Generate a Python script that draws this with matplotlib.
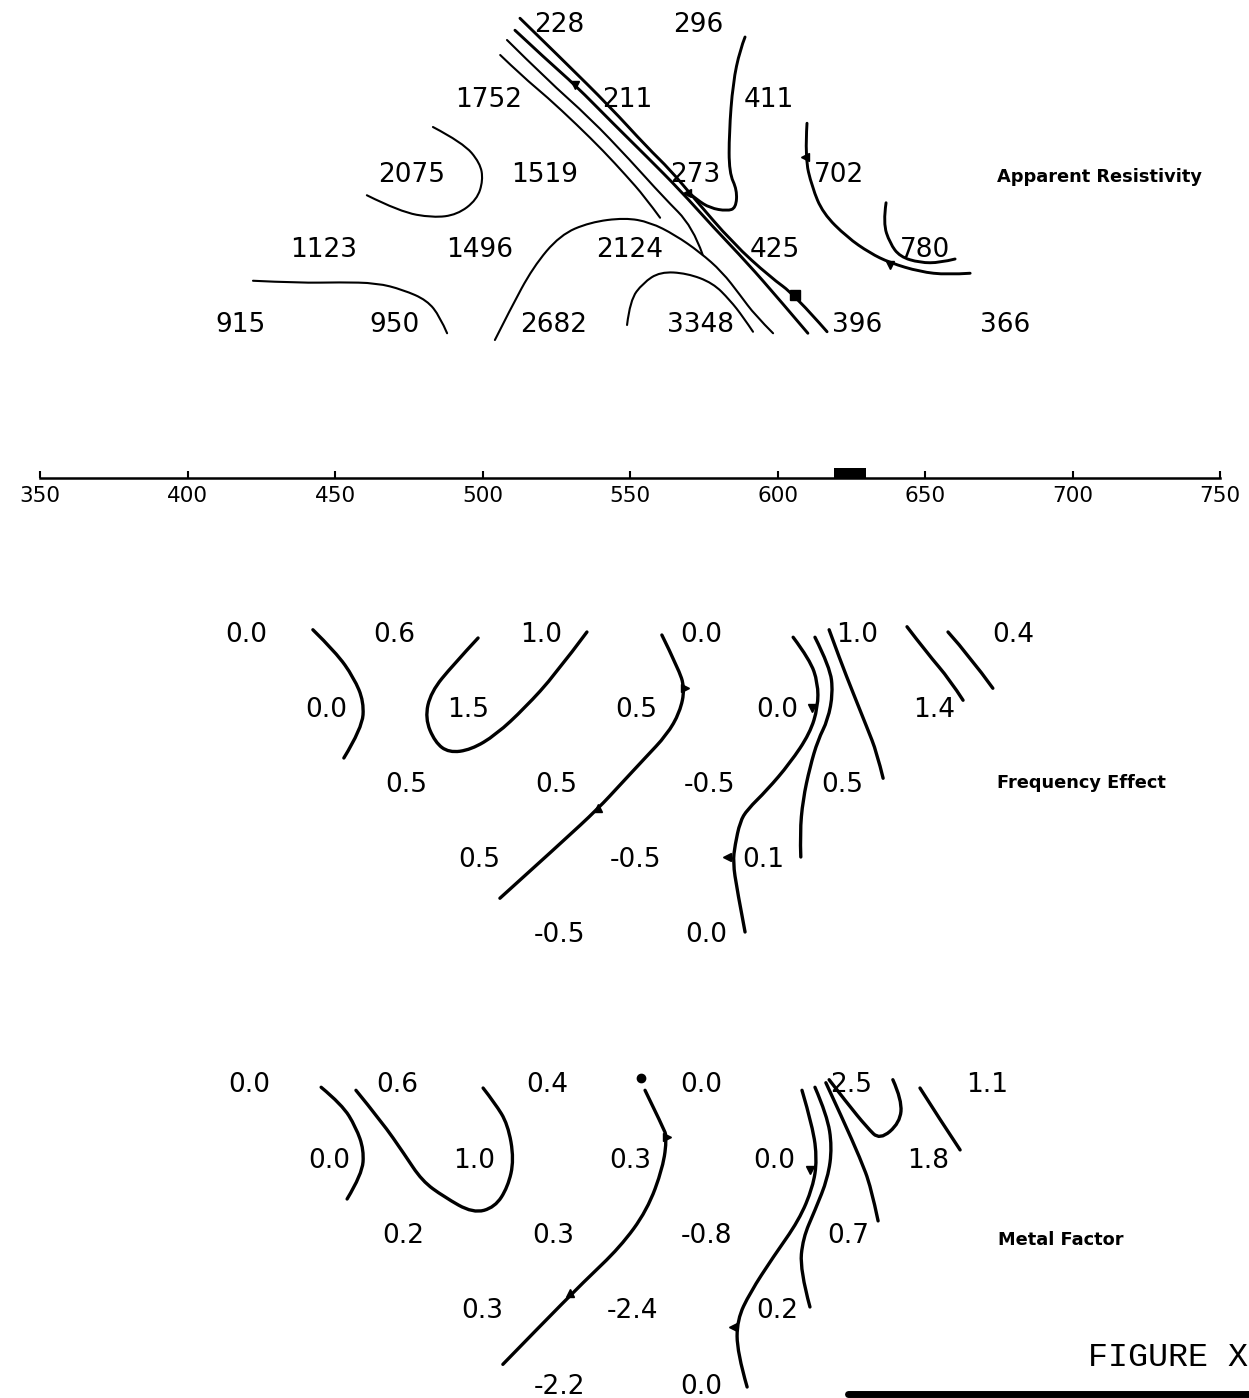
import matplotlib
matplotlib.use("Agg")
import matplotlib.pyplot as plt
from matplotlib.lines import Line2D
from matplotlib.path import Path
from matplotlib.patches import PathPatch

W, H = 1249, 1398
X0, X1 = 336.44, 759.83  # station range across the sheet

# ---- posted values (station, level n, value) ----
res_n = [1, 1, 2, 2, 2, 3, 3, 3, 3, 4, 4, 4, 4, 4, 5, 5, 5, 5, 5, 5]
res_station = [526, 573, 502, 549, 597, 476, 521, 572, 621,
               446, 499, 550, 599, 650, 418, 470, 524, 574, 627, 677]
res_value = ["228", "296", "1752", "211", "411", "2075", "1519", "273", "702",
             "1123", "1496", "2124", "425", "780", "915", "950", "2682", "3348", "396", "366"]

fe_n = [1] * 6 + [2] * 5 + [3] * 4 + [4] * 3 + [5] * 2
fe_station = [420, 470, 520, 574, 627, 680, 447, 495, 552, 600, 653,
              474, 525, 577, 622, 499, 552, 595, 526, 576]
fe_value = ["0.0", "0.6", "1.0", "0.0", "1.0", "0.4", "0.0", "1.5", "0.5", "0.0", "1.4",
            "0.5", "0.5", "-0.5", "0.5", "0.5", "-0.5", "0.1", "-0.5", "0.0"]

mf_n = fe_n
mf_station = [421, 471, 522, 574, 625, 671, 448, 497, 550, 599, 651,
              473, 524, 576, 624, 500, 551, 600, 526, 574]
mf_value = ["0.0", "0.6", "0.4", "0.0", "2.5", "1.1", "0.0", "1.0", "0.3", "0.0", "1.8",
            "0.2", "0.3", "-0.8", "0.7", "0.3", "-2.4", "0.2", "-2.2", "0.0"]

stations = [350, 400, 450, 500, 550, 600, 650, 700, 750]
target = (619, 630)

# ---- hand-drawn contours, traced as (station, n) ----
r_2075_s = [483.2, 493.4, 499.2, 500.2, 498.1, 491.4, 483.2, 472.0, 460.8]
r_2075_n = [2.36, 2.57, 2.84, 3.07, 3.33, 3.53, 3.57, 3.49, 3.27]
r_950_s = [422.2, 438.1, 451.7, 464.2, 473.0, 481.2, 485.6, 488.0]
r_950_n = [4.41, 4.44, 4.43, 4.44, 4.53, 4.67, 4.89, 5.11]
r_2682_s = [504.2, 509.3, 517.1, 526.3, 536.4, 548.3, 556.8, 565.3, 573.7, 581.2, 587.3, 592.4, 598.5]
r_2682_n = [5.2, 4.8, 4.23, 3.8, 3.63, 3.57, 3.63, 3.8, 4.03, 4.29, 4.6, 4.87, 5.11]
r_3348_s = [549.0, 550.0, 554.4, 560.2, 569.3, 578.1, 583.9, 588.3, 591.7]
r_3348_n = [5.0, 4.67, 4.44, 4.29, 4.31, 4.44, 4.67, 4.89, 5.09]
r_a_s = [506.0, 513.7, 521.9, 532.0, 541.0, 548.5, 555.0, 560.2]
r_a_n = [1.4, 1.69, 1.96, 2.33, 2.68, 3.0, 3.29, 3.57]
r_b_s = [508.3, 521.9, 536.4, 550.0, 561.2, 571.3, 574.6]
r_b_n = [1.2, 1.73, 2.24, 2.8, 3.29, 3.69, 4.06]
r_c_s = [511.0, 521.9, 531.4, 544.2, 555.8, 566.9, 578.1, 589.7, 600.8, 610.3]
r_c_n = [1.07, 1.47, 1.8, 2.31, 2.76, 3.2, 3.69, 4.17, 4.67, 5.11]
r_d_s = [512.7, 527.3, 543.2, 555.8, 563.6, 571.3, 584.9, 597.5, 605.9, 616.8]
r_d_n = [0.91, 1.47, 2.09, 2.63, 2.93, 3.29, 3.91, 4.36, 4.6, 5.09]
r_411_s = [589.0, 587.3, 584.9, 583.6, 583.6, 586.3, 585.9, 582.9, 577.1, 572.7, 569.7]
r_411_n = [1.16, 1.33, 1.77, 2.44, 2.97, 3.2, 3.44, 3.48, 3.44, 3.33, 3.23]
r_702_s = [610.0, 609.3, 611.7, 615.4, 623.6, 631.3, 638.1, 648.3, 657.5, 665.3]
r_702_n = [2.31, 2.76, 3.16, 3.51, 3.83, 4.04, 4.17, 4.29, 4.33, 4.31]
r_780_s = [636.8, 635.8, 638.1, 641.5, 648.3, 655.1, 660.2]
r_780_n = [3.37, 3.64, 3.91, 4.09, 4.17, 4.17, 4.12]

f1_s = [442.5, 450.3, 456.4, 459.8, 459.2, 453.0]
f1_n = [0.93, 1.23, 1.57, 1.89, 2.24, 2.64]
f2_s = [498.5, 490.0, 482.5, 480.5, 483.9, 488.6, 496.1, 504.6, 514.4, 524.6, 535.4]
f2_n = [1.04, 1.4, 1.76, 2.11, 2.43, 2.57, 2.53, 2.33, 1.97, 1.53, 0.96]
f3_s = [560.8, 566.3, 568.6, 566.9, 562.5, 555.1, 546.6, 539.3, 527.0, 505.9]
f3_n = [1.0, 1.44, 1.71, 2.03, 2.33, 2.64, 3.0, 3.31, 3.76, 4.51]
f4_s = [605.3, 611.0, 613.7, 613.7, 611.0, 604.2, 596.4, 589.7, 587.3, 585.6, 584.9, 586.3, 589.0]
f4_n = [1.03, 1.33, 1.64, 1.96, 2.31, 2.71, 3.07, 3.33, 3.49, 3.8, 4.03, 4.4, 4.96]
f5_s = [612.7, 617.8, 618.8, 617.1, 613.7, 611.0, 608.6, 607.6, 607.9]
f5_n = [1.03, 1.43, 1.77, 2.13, 2.4, 2.76, 3.2, 3.64, 3.96]
f6_s = [617.5, 621.2, 625.6, 630.3, 633.7, 635.8]
f6_n = [0.93, 1.33, 1.77, 2.23, 2.57, 2.91]
f7_s = [643.9, 650.7, 658.5, 662.9]
f7_n = [0.89, 1.24, 1.6, 1.87]
f8_s = [657.8, 665.3, 673.0]
f8_n = [0.96, 1.29, 1.71]

m1_s = [445.3, 452.4, 457.1, 459.8, 459.2, 454.1]
m1_n = [1.03, 1.26, 1.56, 1.86, 2.18, 2.51]
m2_s = [457.1, 465.9, 473.4, 479.5, 486.9, 496.8, 504.2, 508.6, 510.7, 508.6, 504.2, 500.2]
m2_n = [1.07, 1.49, 1.91, 2.27, 2.48, 2.7, 2.62, 2.35, 1.99, 1.52, 1.24, 1.04]
m3_s = [555.1, 561.2, 562.5, 561.2, 555.8, 546.6, 534.5, 519.1, 506.9]
m3_n = [1.07, 1.56, 1.69, 2.09, 2.66, 3.15, 3.6, 4.21, 4.7]
m4_s = [608.3, 612.0, 613.4, 612.0, 607.3, 598.5, 590.7, 586.3, 586.3, 589.7]
m4_n = [1.07, 1.56, 1.99, 2.35, 2.79, 3.28, 3.75, 4.11, 4.54, 5.0]
m5_s = [612.7, 616.8, 618.5, 617.1, 612.7, 608.6, 607.6, 611.0]
m5_n = [1.03, 1.4, 1.82, 2.23, 2.66, 3.03, 3.45, 3.94]
m6_s = [616.4, 622.2, 628.0, 631.7, 634.1]
m6_n = [0.97, 1.46, 1.97, 2.35, 2.8]
m7_s = [617.5, 623.6, 630.3, 634.7, 641.5, 642.2, 639.1]
m7_n = [0.93, 1.24, 1.56, 1.73, 1.5, 1.2, 0.93]
m8_s = [648.3, 655.1, 661.9]
m8_n = [1.04, 1.46, 1.86]

# arrow ticks on the contours (station, n, marker)
res_marks = [(531.4, 1.8, "v"), (569.3, 3.24, "<"), (605.9, 4.6, "s"),
             (609.3, 2.76, "<"), (638.1, 4.2, "v")]
fe_marks = [(568.6, 1.71, ">"), (539.3, 3.31, "^"), (611.7, 1.97, "v"), (582.9, 3.96, "<")]
mf_marks = [(562.5, 1.69, ">"), (529.5, 3.76, "^"), (611.0, 2.13, "v"),
            (584.9, 4.2, "<"), (553.7, 0.91, "o")]

fig = plt.figure(figsize=(W / 100, H / 100), dpi=100)


def section(top, bottom, base, step):
    ax = fig.add_axes([0, 1 - bottom / H, 1, (bottom - top) / H])
    ax.set_xlim(X0, X1)
    ax.set_ylim(1 + (bottom - base) / step, 1 + (top - base) / step)
    ax.axis("off")
    return ax


def post(ax, st, nn, vals):
    for s, n, v in zip(st, nn, vals):
        ax.text(s, n, v, ha="center", va="center", fontsize=19, color="black")


def contour(ax, s, n, lw):
    # traced points used as control points of a quadratic spline
    verts = [(s[0], n[0])]
    codes = [Path.MOVETO]
    for i in range(1, len(s) - 1):
        if i == len(s) - 2:
            end = (s[-1], n[-1])
        else:
            end = ((s[i] + s[i + 1]) / 2, (n[i] + n[i + 1]) / 2)
        verts += [(s[i], n[i]), end]
        codes += [Path.CURVE3, Path.CURVE3]
    if len(s) == 2:
        verts.append((s[1], n[1]))
        codes.append(Path.LINETO)
    ax.add_patch(PathPatch(Path(verts, codes), fill=False, lw=lw, edgecolor="black",
                           capstyle="round", joinstyle="round"))


def marks(ax, mk):
    for s, n, m in mk:
        ax.plot(s, n, marker=m, ms=6 if m != "s" else 7, color="black", ls="none")


# Apparent resistivity
ax1 = section(0, 400, 25, 75)
post(ax1, res_station, res_n, res_value)
for s, n in [(r_2075_s, r_2075_n), (r_950_s, r_950_n), (r_2682_s, r_2682_n),
             (r_3348_s, r_3348_n), (r_a_s, r_a_n), (r_b_s, r_b_n)]:
    contour(ax1, s, n, 1.5)
for s, n in [(r_c_s, r_c_n), (r_d_s, r_d_n), (r_411_s, r_411_n),
             (r_702_s, r_702_n), (r_780_s, r_780_n)]:
    contour(ax1, s, n, 2.1)
marks(ax1, res_marks)
ax1.text(674.4, 3.03, "Apparent Resistivity", ha="left", va="center",
         fontsize=12.8, fontweight="bold")

# station line
axs = fig.add_axes([0, 1 - 478 / H, 1, 40 / H])
axs.set_xlim(X0, X1)
axs.set_ylim(0, 1)
axs.patch.set_alpha(0)
for sp in ["top", "left", "right"]:
    axs.spines[sp].set_visible(False)
axs.spines["bottom"].set_bounds(stations[0], stations[-1])
axs.spines["bottom"].set_linewidth(1.8)
axs.set_xticks(stations)
axs.set_yticks([])
axs.tick_params(axis="x", direction="in", length=5, width=1.5, labelsize=15.5, pad=6)
axs.bar((target[0] + target[1]) / 2, 0.26, width=target[1] - target[0], bottom=0, color="black")

# Frequency effect
ax2 = section(560, 1010, 635, 75)
post(ax2, fe_station, fe_n, fe_value)
for s, n in [(f1_s, f1_n), (f2_s, f2_n), (f3_s, f3_n), (f4_s, f4_n),
             (f5_s, f5_n), (f6_s, f6_n), (f7_s, f7_n), (f8_s, f8_n)]:
    contour(ax2, s, n, 2.4)
marks(ax2, fe_marks)
ax2.text(674.4, 2.97, "Frequency Effect", ha="left", va="center",
         fontsize=12.8, fontweight="bold")

# Metal factor
ax3 = section(1010, H, 1085, 75.5)
post(ax3, mf_station, mf_n, mf_value)
for s, n in [(m1_s, m1_n), (m2_s, m2_n), (m3_s, m3_n), (m4_s, m4_n),
             (m5_s, m5_n), (m6_s, m6_n), (m7_s, m7_n), (m8_s, m8_n)]:
    contour(ax3, s, n, 2.4)
marks(ax3, mf_marks)
ax3.text(674.7, 3.05, "Metal Factor", ha="left", va="center",
         fontsize=12.8, fontweight="bold")

fig.text(1088 / W, 1 - 1357 / H, "FIGURE X", ha="left", va="center",
         fontsize=24, family="Liberation Mono")
fig.add_artist(Line2D([848 / W, 1.0], [1 - 1394 / H, 1 - 1394 / H],
                      transform=fig.transFigure, color="black", lw=5,
                      solid_capstyle="round"))

fig.savefig("out.png", dpi=100)
